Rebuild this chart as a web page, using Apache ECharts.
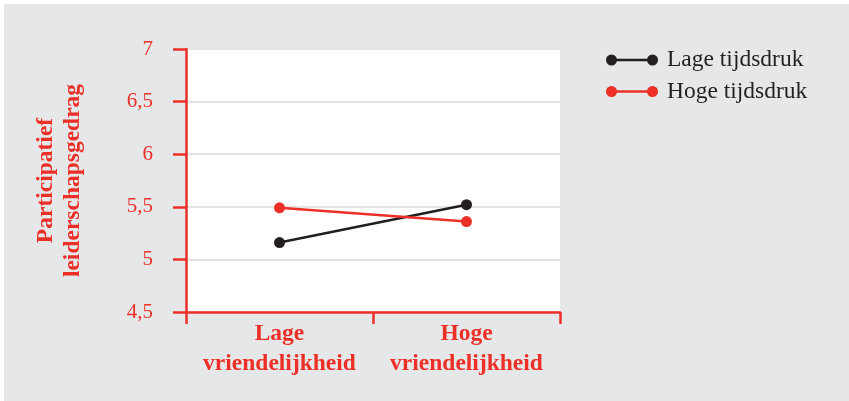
<!DOCTYPE html>
<html>
<head>
<meta charset="utf-8">
<script src="https://cdn.jsdelivr.net/npm/echarts@6/dist/echarts.min.js"></script>
<style>
  html, body { margin: 0; padding: 0; background: #ffffff; }
  #chart { position: absolute; left: 4px; top: 4px; width: 845px; height: 397px; background: #e6e7e8; }
</style>
</head>
<body>
<div id="chart"></div>
<script>
const categories = ['Lage\nvriendelijkheid', 'Hoge\nvriendelijkheid'];
const seriesNames = ['Lage tijdsdruk', 'Hoge tijdsdruk'];
const lageTijdsdruk = [5.16, 5.52];
const hogeTijdsdruk = [5.49, 5.36];
const yMin = 4.5, yMax = 7, yStep = 0.5;
const yAxisTitle = 'Participatief\nleiderschapsgedrag';

const RED = '#ec3028';
const BLACK = '#231f20';
const FONT = '"Liberation Serif", "DejaVu Serif", serif';
const legendIcon = 'path://M0,5.5 A5.5,5.5 0 1,1 11,5.5 A5.5,5.5 0 1,1 0,5.5 Z M5,4.2 L47,4.2 L47,6.8 L5,6.8 Z M41,5.5 A5.5,5.5 0 1,1 52,5.5 A5.5,5.5 0 1,1 41,5.5 Z';

const chart = echarts.init(document.getElementById('chart'));
chart.setOption({
  backgroundColor: '#e6e7e8',
  animation: false,
  grid: { left: 182, top: 45, right: 289, bottom: 89, show: true, backgroundColor: '#ffffff', borderWidth: 0 },
  legend: {
    orient: 'vertical', left: 597, top: 39, itemWidth: 52, itemHeight: 11, itemGap: 7.5,
    icon: legendIcon,
    textStyle: { fontFamily: FONT, fontSize: 23.5, color: BLACK, padding: [0, 0, 0, 4] },
    data: seriesNames
  },
  xAxis: {
    type: 'category', data: categories, boundaryGap: true,
    axisLine: { show: true, lineStyle: { color: RED, width: 2.5 } },
    axisTick: { show: true, interval: 0, length: 12, lineStyle: { color: RED, width: 2.5 } },
    axisLabel: { interval: 0, hideOverlap: false, margin: 7, fontFamily: FONT, fontSize: 23.5, fontWeight: 'bold', color: RED, lineHeight: 30 },
    splitLine: { show: false }
  },
  yAxis: {
    type: 'value', min: yMin, max: yMax, interval: yStep,
    name: yAxisTitle, nameLocation: 'middle', nameGap: 100, nameRotate: 90,
    nameTextStyle: { fontFamily: FONT, fontSize: 23.5, fontWeight: 'bold', color: RED, lineHeight: 27 },
    axisLine: { show: true, lineStyle: { color: RED, width: 2.5 } },
    axisTick: { show: true, length: 13, lineStyle: { color: RED, width: 2.5 } },
    axisLabel: { margin: 33, fontFamily: FONT, fontSize: 21, color: RED, formatter: v => String(v).replace('.', ',') },
    splitLine: { lineStyle: { color: '#e4e4e4', width: 2 } }
  },
  series: [
    { name: seriesNames[0], type: 'line', data: lageTijdsdruk, color: BLACK, symbol: 'circle', symbolSize: 11, lineStyle: { width: 2.5, color: BLACK }, itemStyle: { color: BLACK } },
    { name: seriesNames[1], type: 'line', data: hogeTijdsdruk, color: RED, symbol: 'circle', symbolSize: 11, lineStyle: { width: 2.5, color: RED }, itemStyle: { color: RED } }
  ]
});
</script>
</body>
</html>
